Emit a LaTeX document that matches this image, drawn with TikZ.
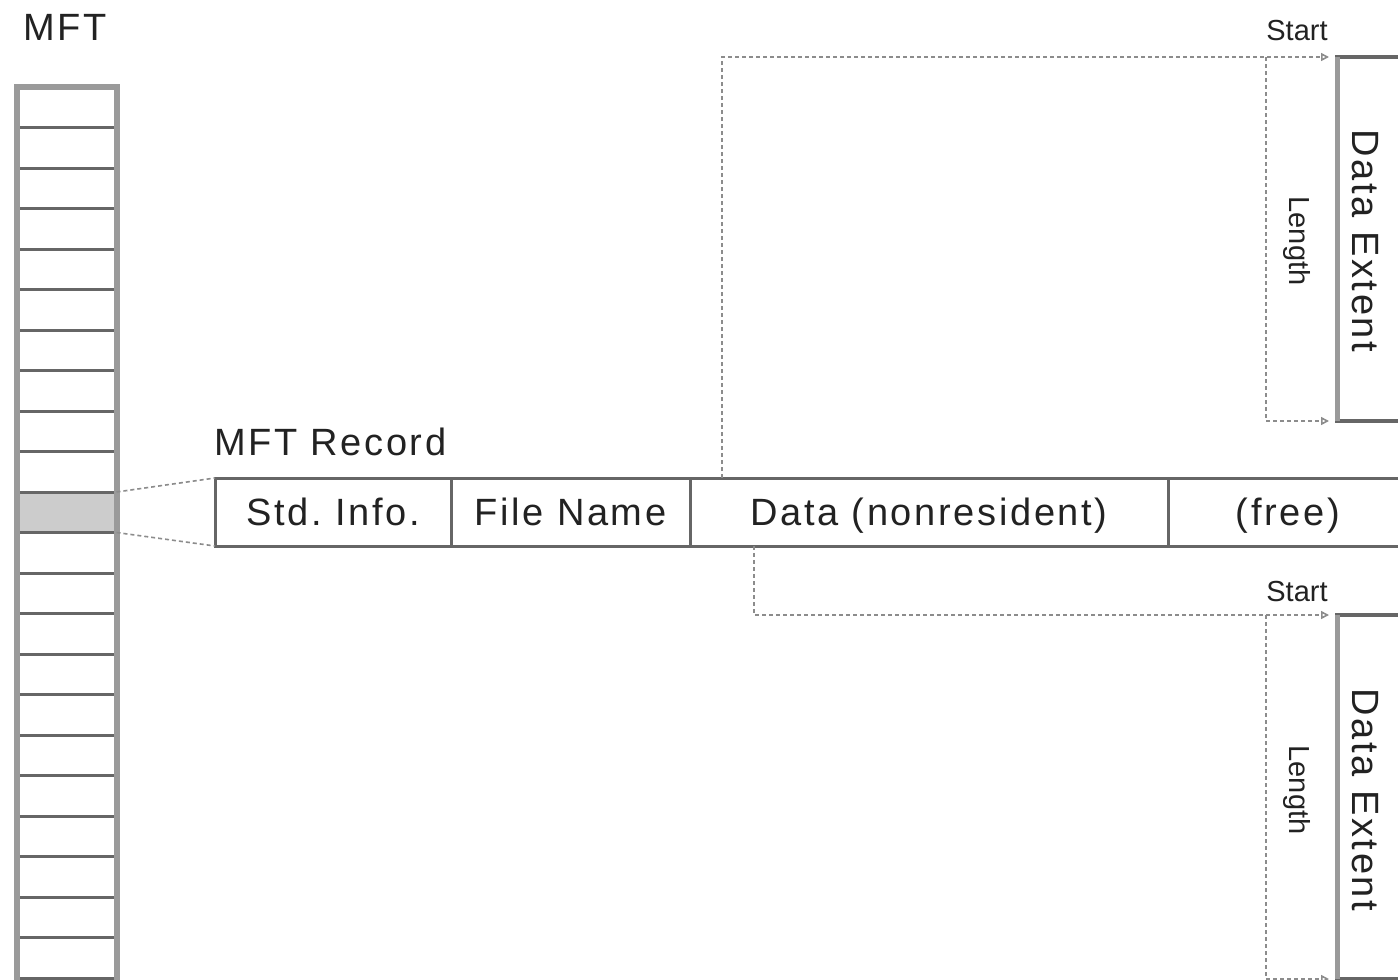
\documentclass[tikz,border=0pt]{standalone}
\usepackage{fontspec}
\setmainfont{Liberation Sans}
\newfontfamily\widefont{Liberation Sans}[LetterSpace=7]
\usetikzlibrary{arrows.meta}
\definecolor{edge}{HTML}{666666}
\definecolor{lightedge}{HTML}{9A9A9A}
\definecolor{txt}{HTML}{222222}
\definecolor{conncol}{HTML}{8C8C8C}
\definecolor{hlfill}{HTML}{CCCCCC}
\begin{document}
\begin{tikzpicture}[x=0.5pt,y=-0.5pt,
  big/.style={font=\widefont\fontsize{19}{23}\selectfont, text=txt, inner sep=0pt, outer sep=0pt, text height=13.6pt, text depth=0pt},
  small/.style={font=\fontsize{14.5}{17}\selectfont, text=txt, inner sep=0pt, outer sep=0pt},
  mftcell/.style={draw=edge, line width=1.5pt, minimum width=50pt, minimum height=20.25pt, inner sep=0pt, outer sep=0pt},
  reccell/.style={big, draw=edge, line width=1.5pt, minimum height=34pt},
  extbox/.style={draw=edge, line width=1.6pt, minimum width=100pt, minimum height=182pt, inner sep=0pt, outer sep=0pt},
  conn/.style={draw=conncol, line width=0.8pt, dash pattern=on 2pt off 1.5pt},
  tip/.style={-{Triangle[open,length=4pt,width=4pt]}, shorten >=4pt},
]
\clip (0,0) rectangle (1398,980);
\fill[white] (0,0) rectangle (1398,980);

% MFT column
\foreach \i in {0,...,22} \node[mftcell] (m\i) at (66.5,{107.25+40.5*\i}) {};
\node[mftcell, fill=hlfill] (hl) at (66.5,512.25) {};
\draw[lightedge, line width=3pt] (m22.south west) -- (m0.north west) -- (m0.north east) -- (m22.south east);
\node[big, anchor=base] (mftlbl) at (65,40) {MFT};

% MFT record
\node[big, anchor=base west] (reclbl) at (214,455) {MFT Record};
\node[reccell, minimum width=118pt, anchor=north west] (std) at (215,478) {Std.\ Info.};
\node[reccell, minimum width=119.5pt, anchor=north west] (fname) at (std.north east) {File Name};
\node[reccell, minimum width=239pt, anchor=north west] (data) at (fname.north east) {Data (nonresident)};
\node[reccell, minimum width=120pt, anchor=north west] (free) at (data.north east) {(free)};

\draw[conn] (hl.north east) -- (std.north west);
\draw[conn] (hl.south east) -- (std.south west);

% extents
\node[extbox, anchor=north west] (ext1) at (1337,57) {};
\draw[lightedge, line width=2.5pt] (ext1.north west) -- (ext1.south west);
\node[big, rotate=-90] (ext1lbl) at (1366,241) {Data Extent};
\node[extbox, anchor=north west] (ext2) at (1337,615) {};
\draw[lightedge, line width=2.5pt] (ext2.north west) -- (ext2.south west);
\node[big, rotate=-90] (ext2lbl) at (1366,800) {Data Extent};

% connectors
\coordinate (d1) at (722,478);
\coordinate (s1) at (1266,57);
\draw[conn, tip] (d1) |- (ext1.north west);
\draw[conn, tip] (s1) |- (ext1.south west);
\node[small] (start1) at (1297,31) {Start};
\node[small, rotate=-90] (len1) at (1297,241) {Length};

\coordinate (d2) at (754,546);
\coordinate (s2) at (1266,615);
\draw[conn, tip] (d2) |- (ext2.north west);
\draw[conn, tip] (s2) |- (ext2.south west);
\node[small] (start2) at (1297,592) {Start};
\node[small, rotate=-90] (len2) at (1297,790) {Length};
\end{tikzpicture}
\end{document}
